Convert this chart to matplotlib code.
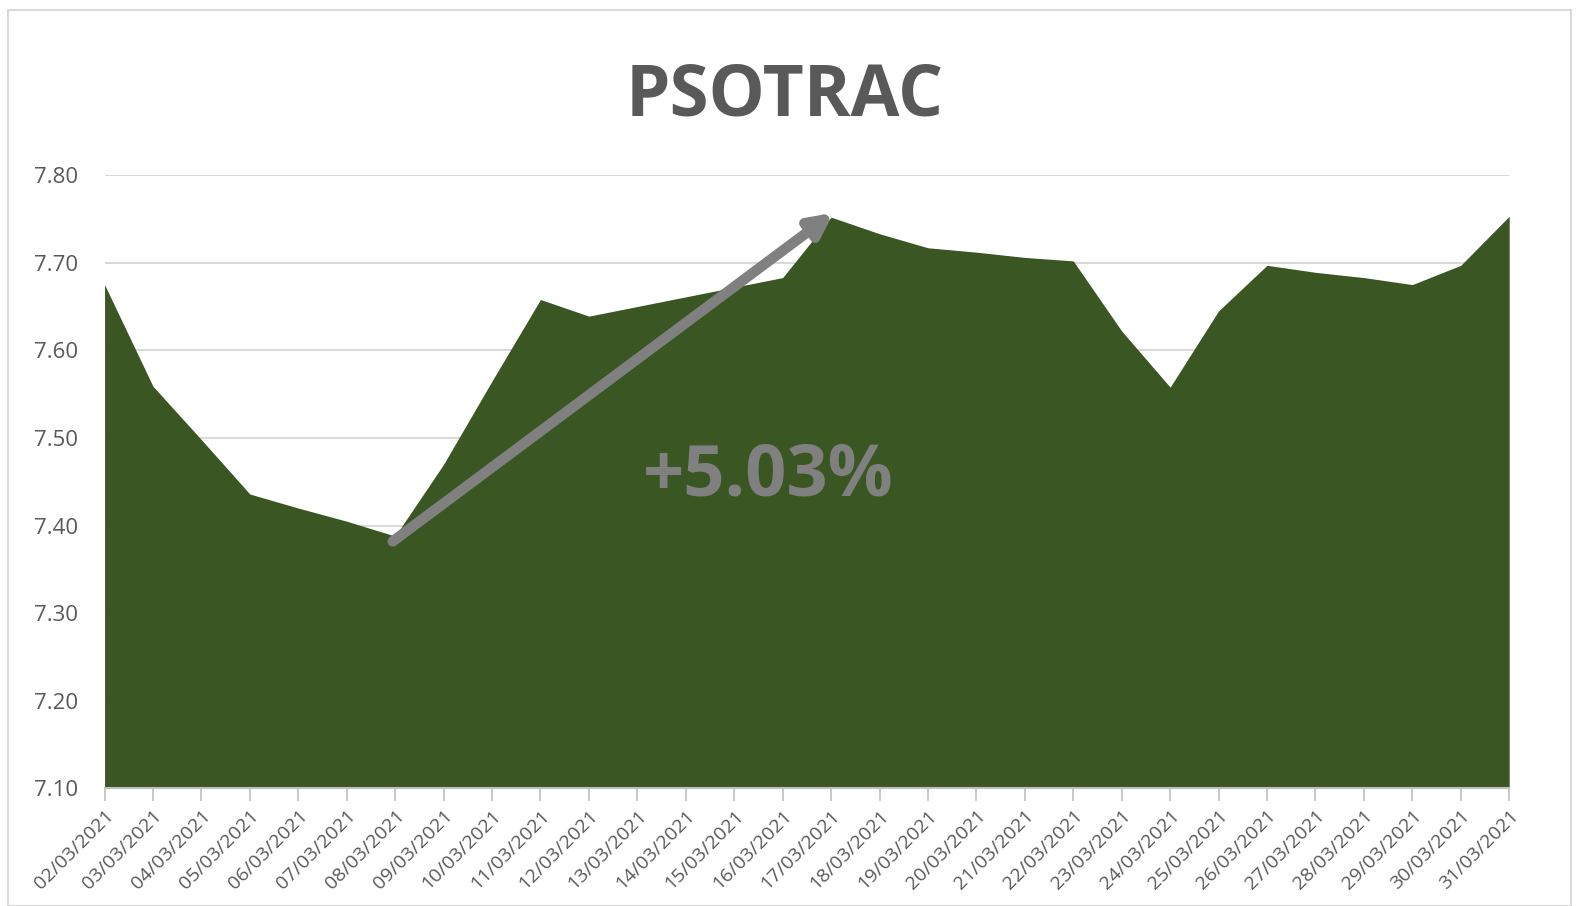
import numpy as np
import matplotlib.pyplot as plt
from matplotlib.patches import Rectangle

# -----------------------------
# Data
# -----------------------------
dates = [f"{d:02d}/03/2021" for d in range(2, 32)]
prices = [
    7.675, 7.559, 7.498, 7.436, 7.420, 7.405, 7.388, 7.470, 7.565, 7.658,
    7.639, 7.650, 7.661, 7.672, 7.683, 7.752, 7.733, 7.717, 7.712, 7.706,
    7.702, 7.622, 7.558, 7.645, 7.697, 7.689, 7.683, 7.675, 7.697, 7.753,
]
y_ticks = [7.10, 7.20, 7.30, 7.40, 7.50, 7.60, 7.70, 7.80]
title = "PSOTRAC"
change_label = "+5.03%"

plt.rcParams["font.family"] = ["Open Sans", "DejaVu Sans"]

GREEN = "#3a5723"
GRAY_TXT = "#595959"
GRID = "#d9d9d9"

x = np.arange(len(dates))

fig = plt.figure(figsize=(15.77, 9.06), dpi=100)
ax = fig.add_axes([0.0663, 0.1297, 0.8907, 0.6771])

# -----------------------------
# Area
# -----------------------------
ax.fill_between(x, y_ticks[0], prices, color=GREEN, linewidth=0, zorder=2)

ax.set_xlim(x[0], x[-1])
ax.set_ylim(y_ticks[0], y_ticks[-1])
ax.set_yticks(y_ticks)
ax.set_yticklabels([f"{v:.2f}" for v in y_ticks])
ax.yaxis.grid(True, color=GRID, linewidth=1.5, zorder=0)
ax.set_axisbelow(True)

ax.set_xticks(x)
ax.set_xticklabels(dates, rotation=45, ha="right", rotation_mode="anchor")

for side in ["top", "right", "left"]:
    ax.spines[side].set_visible(False)
ax.spines["bottom"].set_color("#bfbfbf")
ax.spines["bottom"].set_linewidth(1.5)
ax.spines["bottom"].set_zorder(3)

ax.tick_params(axis="y", length=0, pad=19, labelsize=16, labelcolor=GRAY_TXT)
ax.tick_params(axis="x", length=9, width=1.2, color="#bfbfbf", pad=4,
               labelsize=14, labelcolor=GRAY_TXT)

# -----------------------------
# Arrow + annotation
# -----------------------------
i_lo = int(np.argmin(prices[:10]))
i_hi = int(np.argmax(prices[:20]))
ax.annotate("", xy=(i_hi + 0.05, prices[i_hi] + 0.005), xytext=(i_lo - 0.05, prices[i_lo] - 0.006),
            arrowprops=dict(arrowstyle="-|>,head_length=1.3,head_width=0.65",
                            color="#808080", lw=7.5, shrinkA=0, shrinkB=0),
            zorder=4)
ax.text(13.7, 7.456, change_label, color="#808080", fontsize=52,
        fontweight="bold", ha="center", va="center", zorder=5)

fig.text(0.4975, 0.894, title, color=GRAY_TXT, fontsize=51,
         fontweight="bold", ha="center", va="center")

# chart-area border
fig.patches.append(Rectangle((0.005, 0.0), 0.991, 0.989, transform=fig.transFigure,
                             fill=False, edgecolor="#d9d9d9", linewidth=1.5))

plt.savefig("out.png", dpi=100)
plt.close()
